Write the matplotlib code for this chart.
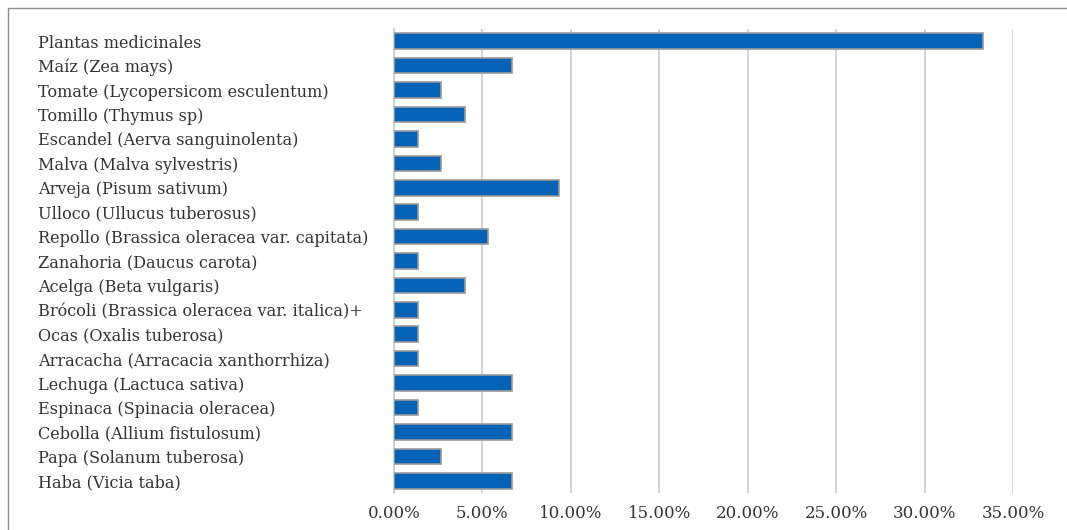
import matplotlib.pyplot as plt
from matplotlib.patches import Rectangle
from matplotlib.ticker import FuncFormatter

# categorias (de arriba hacia abajo)
cultivos = [
    "Plantas medicinales",
    "Maíz (Zea mays)",
    "Tomate (Lycopersicom esculentum)",
    "Tomillo (Thymus sp)",
    "Escandel (Aerva sanguinolenta)",
    "Malva (Malva sylvestris)",
    "Arveja (Pisum sativum)",
    "Ulloco (Ullucus tuberosus)",
    "Repollo (Brassica oleracea var. capitata)",
    "Zanahoria (Daucus carota)",
    "Acelga (Beta vulgaris)",
    "Brócoli (Brassica oleracea var. italica)+",
    "Ocas (Oxalis tuberosa)",
    "Arracacha (Arracacia xanthorrhiza)",
    "Lechuga (Lactuca sativa)",
    "Espinaca (Spinacia oleracea)",
    "Cebolla (Allium fistulosum)",
    "Papa (Solanum tuberosa)",
    "Haba (Vicia taba)",
]
porcentaje = [33.33, 6.67, 2.67, 4.00, 1.33, 2.67, 9.33, 1.33, 5.33, 1.33,
              4.00, 1.33, 1.33, 1.33, 6.67, 1.33, 6.67, 2.67, 6.67]
ticks_x = [0, 5, 10, 15, 20, 25, 30, 35]

FONT = "DejaVu Serif"
W, H = 1067, 530

fig = plt.figure(figsize=(W / 100, H / 100), dpi=100)
ax = fig.add_axes([394 / W, 1 - 493 / H, (1013 - 394) / W, (493 - 29) / H])

y = list(range(len(cultivos)))
ax.barh(y, porcentaje, height=0.64, color="#0563b7", edgecolor="#9a9a9a",
        linewidth=1.2, zorder=3)

ax.set_ylim(len(cultivos) - 0.5, -0.5)
ax.set_xlim(0, 35)
ax.set_xticks(ticks_x)
ax.xaxis.set_major_formatter(FuncFormatter(lambda v, p: f"{v:.2f}%"))
ax.grid(axis="x", color="#c8c8c8", linewidth=1.1, zorder=0)

ax.set_yticks(y)
ax.set_yticklabels(cultivos, ha="left", fontfamily=FONT, fontsize=11.6,
                   color="#333333")
ax.tick_params(axis="y", length=0, pad=(394 - 38) * 0.72)
ax.tick_params(axis="x", length=0, pad=9, labelsize=12, labelcolor="#333333")
for lbl in ax.get_xticklabels():
    lbl.set_fontfamily(FONT)

for s in ["top", "right", "bottom"]:
    ax.spines[s].set_visible(False)
ax.spines["left"].set_color("#c8c8c8")
ax.spines["left"].set_linewidth(1.1)

# marco exterior
fig.patches.append(Rectangle((8 / W, -0.1), 1.2, 1 - 8 / H + 0.1,
                             transform=fig.transFigure, fill=False,
                             edgecolor="#8c8c8c", linewidth=1.0))

plt.savefig("out.png", dpi=100, facecolor="white")
